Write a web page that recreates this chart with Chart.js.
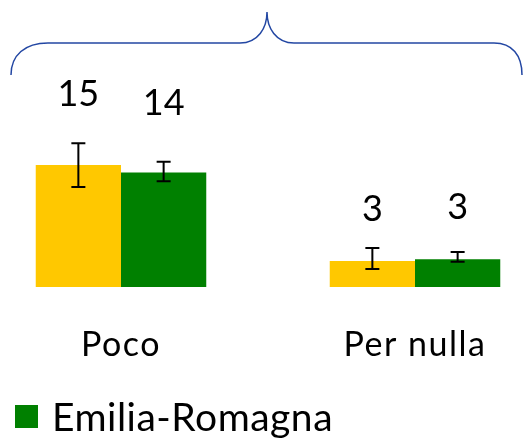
<!DOCTYPE html>
<html>
<head>
<meta charset="utf-8">
<script src="https://cdn.jsdelivr.net/npm/chart.js@4.4.1/dist/chart.umd.min.js"></script>
<style>
  html, body { margin: 0; padding: 0; background: #fff; overflow: hidden; }
  #wrap { position: absolute; left: -26px; top: 0; width: 588px; height: 440px; }
  #c { letter-spacing: 1.5px; }
</style>
</head>
<body>
<div id="wrap"><canvas id="c" width="588" height="440"></canvas></div>
<script>
const categories = ["Poco", "Per nulla"];
const seriesNames = ["Italia", "Emilia-Romagna"];
const italiaValues = [15.0, 3.2];
const erValues = [14.1, 3.4];
const italiaLow = [12.3, 2.2];
const italiaHigh = [17.7, 4.8];
const erLow = [13.0, 3.1];
const erHigh = [15.4, 4.3];
const italiaLabels = ["15", "3"];
const erLabels = ["14", "3"];

const FONT = "Lato, 'Open Sans', sans-serif";

const errorBarPlugin = {
  id: 'errorBars',
  afterDatasetsDraw(chart) {
    const ctx = chart.ctx;
    const y = chart.scales.y;
    chart.data.datasets.forEach((ds, di) => {
      const meta = chart.getDatasetMeta(di);
      meta.data.forEach((bar, i) => {
        const x = bar.x;
        const yl = y.getPixelForValue(ds.errLow[i]);
        const yh = y.getPixelForValue(ds.errHigh[i]);
        ctx.save();
        ctx.strokeStyle = '#000';
        ctx.lineWidth = 2;
        ctx.beginPath();
        ctx.moveTo(x, yl); ctx.lineTo(x, yh);
        ctx.moveTo(x - 7, yl); ctx.lineTo(x + 7, yl);
        ctx.moveTo(x - 7, yh); ctx.lineTo(x + 7, yh);
        ctx.stroke();
        ctx.restore();
        const h = bar.base - bar.y;
        const ly = bar.y - (46 + 0.2 * h);
        ctx.save();
        ctx.letterSpacing = '0px';
        ctx.fillStyle = '#000';
        ctx.font = '36px ' + FONT;
        ctx.textAlign = 'center';
        ctx.textBaseline = 'middle';
        ctx.fillText(ds.valueLabels[i], x, ly);
        ctx.restore();
      });
    });
  }
};

const bracePlugin = {
  id: 'brace',
  afterDraw(chart) {
    const ctx = chart.ctx;
    const ox = 26;
    ctx.save();
    ctx.strokeStyle = '#2347a3';
    ctx.lineWidth = 1.5;
    ctx.beginPath();
    ctx.moveTo(ox + 11, 75);
    ctx.bezierCurveTo(ox + 11, 55, ox + 25, 43, ox + 48, 43);
    ctx.lineTo(ox + 240, 43);
    ctx.bezierCurveTo(ox + 258, 43, ox + 267, 28, ox + 267, 12);
    ctx.bezierCurveTo(ox + 267, 28, ox + 276, 43, ox + 294, 43);
    ctx.lineTo(ox + 494, 43);
    ctx.bezierCurveTo(ox + 512, 43, ox + 522, 55, ox + 522, 75);
    ctx.stroke();
    ctx.restore();
  }
};

const legendPlugin = {
  id: 'customLegend',
  afterDraw(chart) {
    const ctx = chart.ctx;
    const ds = chart.data.datasets[1];
    ctx.save();
    ctx.fillStyle = ds.backgroundColor;
    ctx.fillRect(26 + 15, 405, 23, 23);
    ctx.letterSpacing = '0.5px';
    ctx.fillStyle = '#000';
    ctx.font = '39px ' + FONT;
    ctx.textAlign = 'left';
    ctx.textBaseline = 'alphabetic';
    ctx.fillText(ds.label, 26 + 52, 431);
    ctx.restore();
  }
};

new Chart(document.getElementById('c'), {
  type: 'bar',
  data: {
    labels: categories,
    datasets: [
      { label: seriesNames[0], data: italiaValues, backgroundColor: '#ffc800',
        errLow: italiaLow, errHigh: italiaHigh, valueLabels: italiaLabels },
      { label: seriesNames[1], data: erValues, backgroundColor: '#008000',
        errLow: erLow, errHigh: erHigh, valueLabels: erLabels }
    ]
  },
  options: {
    responsive: false,
    animation: false,
    devicePixelRatio: 1,
    layout: { padding: { top: 140.7, bottom: 53, left: 0, right: 0 } },
    datasets: { bar: { barPercentage: 1.0, categoryPercentage: 0.58 } },
    plugins: { legend: { display: false }, tooltip: { enabled: false } },
    scales: {
      y: { display: false, min: 0, max: 18 },
      x: {
        grid: { display: false, drawTicks: false },
        border: { display: false },
        ticks: { color: '#000', font: { family: FONT, size: 34 }, padding: 38 },
        afterFit: (s) => { s.height = 100; }
      }
    }
  },
  plugins: [errorBarPlugin, bracePlugin, legendPlugin]
});
</script>
</body>
</html>
